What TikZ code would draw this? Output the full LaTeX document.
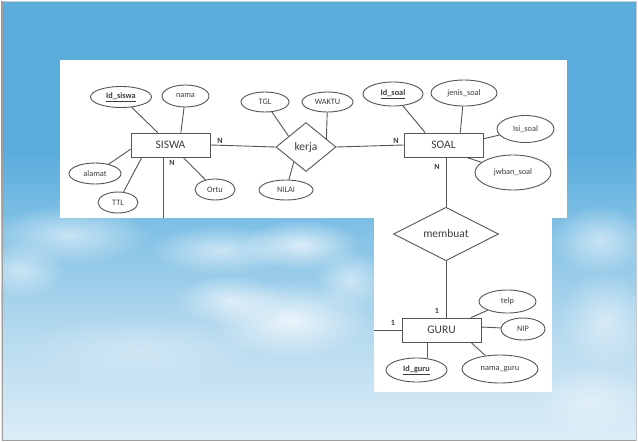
\documentclass[tikz,border=0pt]{standalone}
\usepackage{fontspec}
\setmainfont{Carlito}
\usetikzlibrary{shapes.geometric,calc,fadings}
\definecolor{linec}{RGB}{85,85,85}
\definecolor{txtc}{RGB}{60,60,60}
\definecolor{skyA}{RGB}{90,172,221}
\definecolor{skyB}{RGB}{135,196,230}
\definecolor{skyC}{RGB}{180,217,238}
\definecolor{skyD}{RGB}{220,237,247}
\pgfdeclareverticalshading{sky}{100bp}{color(0bp)=(skyD); color(25bp)=(skyD); color(37.7bp)=(skyC); color(47.9bp)=(skyB); color(58bp)=(skyA); color(100bp)=(skyA)}
\tikzset{
  ent/.style={draw=linec, line width=0.9pt, fill=white, minimum width=79pt, minimum height=24pt, inner sep=0pt, font=\fontsize{11.5}{13}\selectfont, text=txtc},
  attr/.style={draw=linec, ellipse, line width=0.9pt, fill=white, inner sep=0pt, font=\fontsize{8.3}{10}\selectfont, text=txtc},
  rel/.style={draw=linec, diamond, line width=0.9pt, fill=white, inner sep=0pt, font=\fontsize{11.5}{13}\selectfont, text=txtc},
  conn/.style={draw=linec, line width=0.9pt},
  card/.style={font=\bfseries\fontsize{8}{10}\selectfont, text=txtc, inner sep=0pt},
  keyattr/.style={attr, font=\bfseries\fontsize{8.3}{10}\selectfont}
}
\tikzfading[name=softcloud, inner color=transparent!0, outer color=transparent!100]
\newcommand{\ulkey}[1]{\underline{#1}}
\begin{document}
\begin{tikzpicture}[x=1pt,y=-1pt]
\useasboundingbox (0,0) rectangle (638,442);
% background
\shade[shading=sky] (0,0) rectangle (638,442);
% clouds
\begin{scope}[every path/.style={fill=white, path fading=softcloud}]
\fill[opacity=.55] (70,235) ellipse (80 and 30);
\fill[opacity=.5] (20,270) ellipse (45 and 28);
\fill[opacity=.55] (220,250) ellipse (70 and 25);
\fill[opacity=.7] (300,245) ellipse (60 and 25);
\fill[opacity=.75] (290,320) ellipse (80 and 38);
\fill[opacity=.6] (230,300) ellipse (55 and 25);
\fill[opacity=.5] (350,280) ellipse (35 and 30);
\fill[opacity=.55] (600,240) ellipse (50 and 35);
\fill[opacity=.5] (605,320) ellipse (45 and 50);
\fill[opacity=.4] (590,400) ellipse (60 and 35);
\fill[opacity=.3] (140,350) ellipse (120 and 35);
\end{scope}
% frame
\draw[white, line width=2pt] (0,0) rectangle (638,442);
\draw[gray!75, line width=1pt] (2.5,1.5) -- (2.5,440.5) -- (636,440.5);
\draw[gray!40, line width=0.6pt] (2.5,1.5) -- (636,1.5) -- (636,440.5);
% white panels
\fill[white] (60,60) rectangle (567,218);
\fill[white] (374,218) rectangle (552,392);

% entities
\node[ent] (siswa) at (170.5,145) {SISWA};
\node[ent] (soal) at (443.5,145) {SOAL};
\node[ent] (guru) at (441.5,330) {GURU};
% relationships
\node[rel, minimum width=60pt, minimum height=49pt] (kerja) at (306,147) {kerja};
\node[rel, minimum width=105pt, minimum height=53pt] (membuat) at (446,234) {membuat};
% attributes SISWA
\node[keyattr, minimum width=61pt, minimum height=21pt] (idsiswa) at (121,97) {\ulkey{Id\_siswa}};
\node[attr, minimum width=47pt, minimum height=22pt] (nama) at (185.5,96) {nama};
\node[attr, minimum width=52pt, minimum height=21pt] (alamat) at (95,173.5) {alamat};
\node[attr, minimum width=40pt, minimum height=21pt] (ttl) at (118,202.5) {TTL};
\node[attr, minimum width=40pt, minimum height=21pt] (ortu) at (215,189.5) {Ortu};
% attributes kerja
\node[attr, minimum width=48pt, minimum height=20pt] (tgl) at (265,102) {TGL};
\node[attr, minimum width=51pt, minimum height=20pt] (waktu) at (327.5,102) {WAKTU};
\node[attr, minimum width=54pt, minimum height=20pt] (nilai) at (286,190) {NILAI};
% attributes SOAL
\node[keyattr, minimum width=60pt, minimum height=24pt] (idsoal) at (393,94) {\ulkey{Id\_soal}};
\node[attr, minimum width=66pt, minimum height=26pt] (jenis) at (464,93) {jenis\_soal};
\node[attr, minimum width=57pt, minimum height=27pt] (isi) at (525.5,129) {Isi\_soal};
\node[attr, minimum width=76pt, minimum height=35pt] (jwban) at (513,172.5) {jwban\_soal};
% attributes GURU
\node[attr, minimum width=57pt, minimum height=23pt] (telp) at (507.5,301.5) {telp};
\node[attr, minimum width=44pt, minimum height=22pt] (nip) at (523,329) {NIP};
\node[keyattr, minimum width=61pt, minimum height=24pt] (idguru) at (416.5,370) {\ulkey{Id\_guru}};
\node[attr, minimum width=76pt, minimum height=28pt] (namaguru) at (500,369) {nama\_guru};

% free ends at the panel edges
\coordinate (siswaS) at ($(siswa.south west)!.41!(siswa.south east)$);
\coordinate (cutS) at (siswaS |- 0,218);
\coordinate (cutG) at (374,330);

% connectors
\draw[conn] (siswaS) -- (cutS);
\draw[conn] (guru.west) -- (cutG);
\draw[conn] (siswa.east) -- (kerja.west);
\draw[conn] (kerja.east) -- (soal.west);
\draw[conn] (soal.south -| membuat.north) -- (membuat.north);
\draw[conn] (membuat.south) -- (membuat.south |- guru.north);

\draw[conn] (idsiswa) -- ($(siswa.north west)!.34!(siswa.north east)$);
\draw[conn] (nama) -- ($(siswa.north west)!.63!(siswa.north east)$);
\draw[conn] (alamat) -- ($(siswa.south west)!.33!(siswa.north west)$);
\draw[conn] (ttl) -- ($(siswa.south west)!.14!(siswa.south east)$);
\draw[conn] (ortu) -- ($(siswa.south west)!.66!(siswa.south east)$);

\draw[conn] (tgl) -- ($(kerja.west)!.43!(kerja.north)$);
\draw[conn] (waktu) -- ($(kerja.north)!.67!(kerja.east)$);
\draw[conn] (nilai) -- ($(kerja.west)!.6!(kerja.south)$);

\draw[conn] (idsoal) -- ($(soal.north west)!.27!(soal.north east)$);
\draw[conn] (jenis) -- ($(soal.north west)!.71!(soal.north east)$);
\draw[conn] (isi) -- ($(soal.south east)!.75!(soal.north east)$);
\draw[conn] (jwban) -- ($(soal.south west)!.79!(soal.south east)$);

\draw[conn] (telp) -- ($(guru.north west)!.87!(guru.north east)$);
\draw[conn] (nip) -- ($(guru.south east)!.62!(guru.north east)$);
\coordinate (guruS) at ($(guru.south west)!.33!(guru.south east)$);
\draw[conn] (guruS) -- (guruS |- idguru.north);
\draw[conn] (namaguru) -- ($(guru.south west)!.87!(guru.south east)$);

% cardinalities
\node[card] (c1) at (220,141) {N};
\node[card] (c2) at (172,163) {N};
\node[card] (c3) at (396,141) {N};
\node[card] (c4) at (437,167) {N};
\node[card] (c5) at (437,311) {1};
\node[card] (c6) at (393,323) {1};
\end{tikzpicture}
\end{document}
